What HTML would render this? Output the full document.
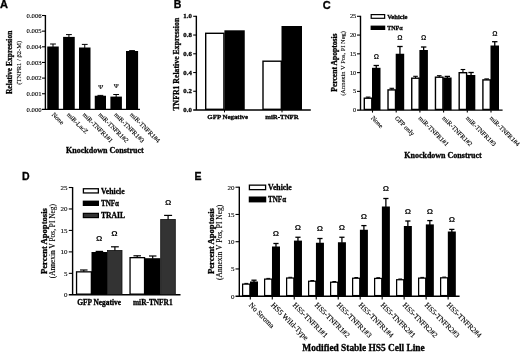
<!DOCTYPE html>
<html lang="en"><head><meta charset="utf-8"><title>Figure</title>
<style>
html,body{margin:0;padding:0;background:#fff;}
body{width:520px;height:352px;overflow:hidden;}
svg{display:block;}
</style></head><body>
<svg width="520" height="352" viewBox="0 0 520 352">
<rect x="0" y="0" width="520" height="352" fill="#fff"/>
<text x="0.00" y="8.40" font-family='"Liberation Sans","DejaVu Sans",sans-serif' font-size="11.0" font-weight="bold" stroke="#000" stroke-width="0.3" fill="#000">A</text>
<text x="173.80" y="8.20" font-family='"Liberation Sans","DejaVu Sans",sans-serif' font-size="10.5" font-weight="bold" stroke="#000" stroke-width="0.3" fill="#000">B</text>
<text x="322.70" y="8.60" font-family='"Liberation Sans","DejaVu Sans",sans-serif' font-size="11.0" font-weight="bold" stroke="#000" stroke-width="0.3" fill="#000">C</text>
<text x="22.10" y="179.80" font-family='"Liberation Sans","DejaVu Sans",sans-serif' font-size="10.5" font-weight="bold" stroke="#000" stroke-width="0.3" fill="#000">D</text>
<text x="194.60" y="179.80" font-family='"Liberation Sans","DejaVu Sans",sans-serif' font-size="10.5" font-weight="bold" stroke="#000" stroke-width="0.3" fill="#000">E</text>
<line x1="45.40" y1="15.00" x2="45.40" y2="109.40" stroke="#000" stroke-width="1.4"/>
<line x1="42.00" y1="109.40" x2="140.00" y2="109.40" stroke="#000" stroke-width="1.4"/>
<line x1="42.00" y1="15.50" x2="45.40" y2="15.50" stroke="#000" stroke-width="1.1"/>
<text x="41.60" y="17.70" font-family='"Liberation Serif","DejaVu Serif",serif' font-size="6.7" stroke="#000" stroke-width="0.12" text-anchor="end" fill="#000">0.006</text>
<line x1="42.00" y1="31.15" x2="45.40" y2="31.15" stroke="#000" stroke-width="1.1"/>
<text x="41.60" y="33.35" font-family='"Liberation Serif","DejaVu Serif",serif' font-size="6.7" stroke="#000" stroke-width="0.12" text-anchor="end" fill="#000">0.005</text>
<line x1="42.00" y1="46.80" x2="45.40" y2="46.80" stroke="#000" stroke-width="1.1"/>
<text x="41.60" y="49.00" font-family='"Liberation Serif","DejaVu Serif",serif' font-size="6.7" stroke="#000" stroke-width="0.12" text-anchor="end" fill="#000">0.004</text>
<line x1="42.00" y1="62.45" x2="45.40" y2="62.45" stroke="#000" stroke-width="1.1"/>
<text x="41.60" y="64.65" font-family='"Liberation Serif","DejaVu Serif",serif' font-size="6.7" stroke="#000" stroke-width="0.12" text-anchor="end" fill="#000">0.003</text>
<line x1="42.00" y1="78.10" x2="45.40" y2="78.10" stroke="#000" stroke-width="1.1"/>
<text x="41.60" y="80.30" font-family='"Liberation Serif","DejaVu Serif",serif' font-size="6.7" stroke="#000" stroke-width="0.12" text-anchor="end" fill="#000">0.002</text>
<line x1="42.00" y1="93.75" x2="45.40" y2="93.75" stroke="#000" stroke-width="1.1"/>
<text x="41.60" y="95.95" font-family='"Liberation Serif","DejaVu Serif",serif' font-size="6.7" stroke="#000" stroke-width="0.12" text-anchor="end" fill="#000">0.001</text>
<text x="41.60" y="111.60" font-family='"Liberation Serif","DejaVu Serif",serif' font-size="6.7" stroke="#000" stroke-width="0.12" text-anchor="end" fill="#000">0.000</text>
<rect x="47.25" y="46.50" width="11.50" height="62.90" fill="#000"/>
<line x1="53.00" y1="47.00" x2="53.00" y2="44.00" stroke="#000" stroke-width="1.0"/>
<line x1="50.10" y1="44.00" x2="55.90" y2="44.00" stroke="#000" stroke-width="1.0"/>
<rect x="63.10" y="36.90" width="11.65" height="72.50" fill="#000"/>
<line x1="68.92" y1="37.40" x2="68.92" y2="34.60" stroke="#000" stroke-width="1.0"/>
<line x1="66.02" y1="34.60" x2="71.83" y2="34.60" stroke="#000" stroke-width="1.0"/>
<rect x="79.00" y="47.50" width="11.50" height="61.90" fill="#000"/>
<line x1="84.75" y1="48.00" x2="84.75" y2="44.40" stroke="#000" stroke-width="1.0"/>
<line x1="81.85" y1="44.40" x2="87.65" y2="44.40" stroke="#000" stroke-width="1.0"/>
<rect x="94.75" y="95.75" width="11.25" height="13.65" fill="#000"/>
<line x1="100.38" y1="96.25" x2="100.38" y2="95.40" stroke="#000" stroke-width="1.0"/>
<line x1="97.47" y1="95.40" x2="103.28" y2="95.40" stroke="#000" stroke-width="1.0"/>
<rect x="110.40" y="96.60" width="11.50" height="12.80" fill="#000"/>
<line x1="116.15" y1="97.10" x2="116.15" y2="94.50" stroke="#000" stroke-width="1.0"/>
<line x1="113.25" y1="94.50" x2="119.05" y2="94.50" stroke="#000" stroke-width="1.0"/>
<rect x="126.00" y="51.00" width="12.10" height="58.40" fill="#000"/>
<line x1="132.05" y1="51.50" x2="132.05" y2="50.60" stroke="#000" stroke-width="1.0"/>
<line x1="129.15" y1="50.60" x2="134.95" y2="50.60" stroke="#000" stroke-width="1.0"/>
<text x="100.7" y="88.7" font-family='"Liberation Serif","DejaVu Serif",serif' font-size="6.7" text-anchor="middle" stroke="#000" stroke-width="0.15">Ψ</text>
<text x="116.3" y="87.5" font-family='"Liberation Serif","DejaVu Serif",serif' font-size="6.7" text-anchor="middle" stroke="#000" stroke-width="0.15">Ψ</text>
<text x="51.50" y="115.00" font-family='"Liberation Serif","DejaVu Serif",serif' font-size="6.5" stroke="#000" stroke-width="0.12" transform="rotate(45 51.50 115.00)" fill="#000">None</text>
<text x="66.42" y="115.00" font-family='"Liberation Serif","DejaVu Serif",serif' font-size="6.5" stroke="#000" stroke-width="0.12" transform="rotate(45 66.42 115.00)" fill="#000">miR-LacZ</text>
<text x="82.25" y="115.00" font-family='"Liberation Serif","DejaVu Serif",serif' font-size="6.5" stroke="#000" stroke-width="0.12" transform="rotate(45 82.25 115.00)" fill="#000">miR-TNFR1#1</text>
<text x="97.88" y="115.00" font-family='"Liberation Serif","DejaVu Serif",serif' font-size="6.5" stroke="#000" stroke-width="0.12" transform="rotate(45 97.88 115.00)" fill="#000">miR-TNFR1#2</text>
<text x="113.65" y="115.00" font-family='"Liberation Serif","DejaVu Serif",serif' font-size="6.5" stroke="#000" stroke-width="0.12" transform="rotate(45 113.65 115.00)" fill="#000">miR-TNFR1#3</text>
<text x="129.55" y="115.00" font-family='"Liberation Serif","DejaVu Serif",serif' font-size="6.5" stroke="#000" stroke-width="0.12" transform="rotate(45 129.55 115.00)" fill="#000">miR-TNFR1#4</text>
<text x="104.90" y="153.10" font-family='"Liberation Serif","DejaVu Serif",serif' font-size="8.0" font-weight="bold" stroke="#000" stroke-width="0.3" text-anchor="middle" fill="#000">Knockdown Construct</text>
<text x="12.20" y="62.35" font-family='"Liberation Serif","DejaVu Serif",serif' font-size="7.5" font-weight="bold" stroke="#000" stroke-width="0.3" text-anchor="middle" transform="rotate(-90 12.20 62.35)" fill="#000">Relative Expression</text>
<text x="21.20" y="62.80" font-family='"Liberation Serif","DejaVu Serif",serif' font-size="6.5" stroke="#000" stroke-width="0.12" text-anchor="middle" transform="rotate(-90 21.20 62.80)" fill="#000">(TNFR1 / β2-M)</text>
<line x1="196.35" y1="15.80" x2="196.35" y2="110.00" stroke="#000" stroke-width="1.4"/>
<line x1="193.20" y1="110.00" x2="310.80" y2="110.00" stroke="#000" stroke-width="1.4"/>
<line x1="193.20" y1="16.30" x2="196.35" y2="16.30" stroke="#000" stroke-width="1.1"/>
<text x="191.80" y="18.40" font-family='"Liberation Serif","DejaVu Serif",serif' font-size="6.8" font-weight="bold" stroke="#000" stroke-width="0.3" text-anchor="end" fill="#000">1.0</text>
<line x1="193.20" y1="35.04" x2="196.35" y2="35.04" stroke="#000" stroke-width="1.1"/>
<text x="191.80" y="37.14" font-family='"Liberation Serif","DejaVu Serif",serif' font-size="6.8" font-weight="bold" stroke="#000" stroke-width="0.3" text-anchor="end" fill="#000">0.8</text>
<line x1="193.20" y1="53.78" x2="196.35" y2="53.78" stroke="#000" stroke-width="1.1"/>
<text x="191.80" y="55.88" font-family='"Liberation Serif","DejaVu Serif",serif' font-size="6.8" font-weight="bold" stroke="#000" stroke-width="0.3" text-anchor="end" fill="#000">0.6</text>
<line x1="193.20" y1="72.52" x2="196.35" y2="72.52" stroke="#000" stroke-width="1.1"/>
<text x="191.80" y="74.62" font-family='"Liberation Serif","DejaVu Serif",serif' font-size="6.8" font-weight="bold" stroke="#000" stroke-width="0.3" text-anchor="end" fill="#000">0.4</text>
<line x1="193.20" y1="91.26" x2="196.35" y2="91.26" stroke="#000" stroke-width="1.1"/>
<text x="191.80" y="93.36" font-family='"Liberation Serif","DejaVu Serif",serif' font-size="6.8" font-weight="bold" stroke="#000" stroke-width="0.3" text-anchor="end" fill="#000">0.2</text>
<text x="191.80" y="112.10" font-family='"Liberation Serif","DejaVu Serif",serif' font-size="6.8" font-weight="bold" stroke="#000" stroke-width="0.3" text-anchor="end" fill="#000">0.0</text>
<rect x="205.70" y="33.30" width="18.20" height="76.00" fill="#fff" stroke="#000" stroke-width="1.4"/>
<rect x="224.40" y="30.30" width="20.35" height="79.70" fill="#000"/>
<rect x="263.00" y="61.20" width="18.30" height="48.10" fill="#fff" stroke="#000" stroke-width="1.4"/>
<rect x="281.50" y="26.00" width="20.50" height="84.00" fill="#000"/>
<line x1="224.50" y1="110.00" x2="224.50" y2="112.40" stroke="#000" stroke-width="1.0"/>
<line x1="282.00" y1="110.00" x2="282.00" y2="112.40" stroke="#000" stroke-width="1.0"/>
<text x="227.70" y="119.30" font-family='"Liberation Serif","DejaVu Serif",serif' font-size="6.9" font-weight="bold" stroke="#000" stroke-width="0.3" text-anchor="middle" fill="#000">GFP Negative</text>
<text x="282.00" y="119.30" font-family='"Liberation Serif","DejaVu Serif",serif' font-size="6.85" font-weight="bold" stroke="#000" stroke-width="0.3" text-anchor="middle" fill="#000">miR-TNFR</text>
<text x="179.30" y="64.20" font-family='"Liberation Serif","DejaVu Serif",serif' font-size="7.7" font-weight="bold" stroke="#000" stroke-width="0.3" text-anchor="middle" transform="rotate(-90 179.30 64.20)" textLength="92.80" lengthAdjust="spacing" fill="#000">TNFR1 Relative Expression</text>
<line x1="360.50" y1="15.80" x2="360.50" y2="110.15" stroke="#000" stroke-width="1.4"/>
<line x1="357.00" y1="110.15" x2="502.60" y2="110.15" stroke="#000" stroke-width="1.4"/>
<line x1="357.00" y1="16.30" x2="360.50" y2="16.30" stroke="#000" stroke-width="1.1"/>
<text x="356.30" y="18.40" font-family='"Liberation Serif","DejaVu Serif",serif' font-size="6.4" stroke="#000" stroke-width="0.12" text-anchor="end" fill="#000">25</text>
<line x1="357.00" y1="35.07" x2="360.50" y2="35.07" stroke="#000" stroke-width="1.1"/>
<text x="356.30" y="37.17" font-family='"Liberation Serif","DejaVu Serif",serif' font-size="6.4" stroke="#000" stroke-width="0.12" text-anchor="end" fill="#000">20</text>
<line x1="357.00" y1="53.84" x2="360.50" y2="53.84" stroke="#000" stroke-width="1.1"/>
<text x="356.30" y="55.94" font-family='"Liberation Serif","DejaVu Serif",serif' font-size="6.4" stroke="#000" stroke-width="0.12" text-anchor="end" fill="#000">15</text>
<line x1="357.00" y1="72.61" x2="360.50" y2="72.61" stroke="#000" stroke-width="1.1"/>
<text x="356.30" y="74.71" font-family='"Liberation Serif","DejaVu Serif",serif' font-size="6.4" stroke="#000" stroke-width="0.12" text-anchor="end" fill="#000">10</text>
<line x1="357.00" y1="91.38" x2="360.50" y2="91.38" stroke="#000" stroke-width="1.1"/>
<text x="356.30" y="93.48" font-family='"Liberation Serif","DejaVu Serif",serif' font-size="6.4" stroke="#000" stroke-width="0.12" text-anchor="end" fill="#000">5</text>
<text x="356.30" y="112.25" font-family='"Liberation Serif","DejaVu Serif",serif' font-size="6.4" stroke="#000" stroke-width="0.12" text-anchor="end" fill="#000">0</text>
<rect x="364.30" y="98.20" width="7.50" height="11.25" fill="#fff" stroke="#000" stroke-width="1.4"/>
<line x1="368.10" y1="98.00" x2="368.10" y2="97.10" stroke="#000" stroke-width="1.1"/>
<line x1="365.80" y1="97.10" x2="370.40" y2="97.10" stroke="#000" stroke-width="1.1"/>
<rect x="372.00" y="67.80" width="8.50" height="42.35" fill="#000"/>
<line x1="376.25" y1="68.30" x2="376.25" y2="65.50" stroke="#000" stroke-width="1.3"/>
<line x1="373.55" y1="65.50" x2="378.95" y2="65.50" stroke="#000" stroke-width="1.3"/>
<line x1="372.50" y1="110.15" x2="372.50" y2="112.60" stroke="#000" stroke-width="1.1"/>
<rect x="388.02" y="89.90" width="7.48" height="19.55" fill="#fff" stroke="#000" stroke-width="1.4"/>
<line x1="391.81" y1="89.70" x2="391.81" y2="88.30" stroke="#000" stroke-width="1.1"/>
<line x1="389.51" y1="88.30" x2="394.11" y2="88.30" stroke="#000" stroke-width="1.1"/>
<rect x="395.70" y="53.75" width="8.50" height="56.40" fill="#000"/>
<line x1="399.95" y1="54.25" x2="399.95" y2="46.50" stroke="#000" stroke-width="1.3"/>
<line x1="397.25" y1="46.50" x2="402.65" y2="46.50" stroke="#000" stroke-width="1.3"/>
<line x1="396.20" y1="110.15" x2="396.20" y2="112.60" stroke="#000" stroke-width="1.1"/>
<rect x="411.74" y="78.20" width="7.46" height="31.25" fill="#fff" stroke="#000" stroke-width="1.4"/>
<line x1="415.52" y1="78.00" x2="415.52" y2="76.30" stroke="#000" stroke-width="1.1"/>
<line x1="413.22" y1="76.30" x2="417.82" y2="76.30" stroke="#000" stroke-width="1.1"/>
<rect x="419.40" y="50.00" width="8.50" height="60.15" fill="#000"/>
<line x1="423.65" y1="50.50" x2="423.65" y2="47.00" stroke="#000" stroke-width="1.3"/>
<line x1="420.95" y1="47.00" x2="426.35" y2="47.00" stroke="#000" stroke-width="1.3"/>
<line x1="419.90" y1="110.15" x2="419.90" y2="112.60" stroke="#000" stroke-width="1.1"/>
<rect x="435.46" y="77.20" width="7.44" height="32.25" fill="#fff" stroke="#000" stroke-width="1.4"/>
<line x1="439.23" y1="77.00" x2="439.23" y2="75.70" stroke="#000" stroke-width="1.1"/>
<line x1="436.93" y1="75.70" x2="441.53" y2="75.70" stroke="#000" stroke-width="1.1"/>
<rect x="443.10" y="77.50" width="8.50" height="32.65" fill="#000"/>
<line x1="447.35" y1="78.00" x2="447.35" y2="76.40" stroke="#000" stroke-width="1.3"/>
<line x1="444.65" y1="76.40" x2="450.05" y2="76.40" stroke="#000" stroke-width="1.3"/>
<line x1="443.60" y1="110.15" x2="443.60" y2="112.60" stroke="#000" stroke-width="1.1"/>
<rect x="459.18" y="72.70" width="7.42" height="36.75" fill="#fff" stroke="#000" stroke-width="1.4"/>
<line x1="462.94" y1="72.50" x2="462.94" y2="69.50" stroke="#000" stroke-width="1.1"/>
<line x1="460.64" y1="69.50" x2="465.24" y2="69.50" stroke="#000" stroke-width="1.1"/>
<rect x="466.80" y="75.00" width="8.50" height="35.15" fill="#000"/>
<line x1="471.05" y1="75.50" x2="471.05" y2="72.50" stroke="#000" stroke-width="1.3"/>
<line x1="468.35" y1="72.50" x2="473.75" y2="72.50" stroke="#000" stroke-width="1.3"/>
<line x1="467.30" y1="110.15" x2="467.30" y2="112.60" stroke="#000" stroke-width="1.1"/>
<rect x="482.90" y="79.90" width="7.40" height="29.55" fill="#fff" stroke="#000" stroke-width="1.4"/>
<line x1="486.65" y1="79.70" x2="486.65" y2="78.90" stroke="#000" stroke-width="1.1"/>
<line x1="484.35" y1="78.90" x2="488.95" y2="78.90" stroke="#000" stroke-width="1.1"/>
<rect x="490.50" y="45.50" width="8.50" height="64.65" fill="#000"/>
<line x1="494.75" y1="46.00" x2="494.75" y2="41.70" stroke="#000" stroke-width="1.3"/>
<line x1="492.05" y1="41.70" x2="497.45" y2="41.70" stroke="#000" stroke-width="1.3"/>
<line x1="491.00" y1="110.15" x2="491.00" y2="112.60" stroke="#000" stroke-width="1.1"/>
<text x="376.30" y="58.70" font-family='"Liberation Sans","DejaVu Sans",sans-serif' font-size="6.6" font-weight="bold" text-anchor="middle" fill="#000">Ω</text>
<text x="400.00" y="40.20" font-family='"Liberation Sans","DejaVu Sans",sans-serif' font-size="6.6" font-weight="bold" text-anchor="middle" fill="#000">Ω</text>
<text x="423.70" y="40.20" font-family='"Liberation Sans","DejaVu Sans",sans-serif' font-size="6.6" font-weight="bold" text-anchor="middle" fill="#000">Ω</text>
<text x="494.80" y="35.70" font-family='"Liberation Sans","DejaVu Sans",sans-serif' font-size="6.6" font-weight="bold" text-anchor="middle" fill="#000">Ω</text>
<rect x="371.20" y="14.60" width="13.45" height="3.70" fill="#fff" stroke="#000" stroke-width="1.2"/>
<rect x="370.60" y="25.60" width="14.65" height="4.40" fill="#000"/>
<text x="387.20" y="18.80" font-family='"Liberation Serif","DejaVu Serif",serif' font-size="6.6" font-weight="bold" stroke="#000" stroke-width="0.3" fill="#000">Vehicle</text>
<text x="387.20" y="30.00" font-family='"Liberation Serif","DejaVu Serif",serif' font-size="6.6" font-weight="bold" stroke="#000" stroke-width="0.3" textLength="15.30" lengthAdjust="spacingAndGlyphs" fill="#000">TNFα</text>
<text x="370.70" y="118.50" font-family='"Liberation Serif","DejaVu Serif",serif' font-size="6.5" stroke="#000" stroke-width="0.12" transform="rotate(45 370.70 118.50)" fill="#000">None</text>
<text x="394.40" y="118.50" font-family='"Liberation Serif","DejaVu Serif",serif' font-size="6.5" stroke="#000" stroke-width="0.12" transform="rotate(45 394.40 118.50)" fill="#000">GFP only</text>
<text x="418.10" y="118.50" font-family='"Liberation Serif","DejaVu Serif",serif' font-size="6.5" stroke="#000" stroke-width="0.12" transform="rotate(45 418.10 118.50)" fill="#000">miR-TNFR1#1</text>
<text x="441.80" y="118.50" font-family='"Liberation Serif","DejaVu Serif",serif' font-size="6.5" stroke="#000" stroke-width="0.12" transform="rotate(45 441.80 118.50)" fill="#000">miR-TNFR1#2</text>
<text x="465.50" y="118.50" font-family='"Liberation Serif","DejaVu Serif",serif' font-size="6.5" stroke="#000" stroke-width="0.12" transform="rotate(45 465.50 118.50)" fill="#000">miR-TNFR1#3</text>
<text x="489.20" y="118.50" font-family='"Liberation Serif","DejaVu Serif",serif' font-size="6.5" stroke="#000" stroke-width="0.12" transform="rotate(45 489.20 118.50)" fill="#000">miR-TNFR1#4</text>
<text x="443.00" y="158.40" font-family='"Liberation Serif","DejaVu Serif",serif' font-size="8.0" font-weight="bold" stroke="#000" stroke-width="0.3" text-anchor="middle" fill="#000">Knockdown Construct</text>
<text x="337.10" y="62.60" font-family='"Liberation Serif","DejaVu Serif",serif' font-size="7.6" font-weight="bold" stroke="#000" stroke-width="0.3" text-anchor="middle" transform="rotate(-90 337.10 62.60)" fill="#000">Percent Apoptosis</text>
<text x="345.20" y="63.45" font-family='"Liberation Serif","DejaVu Serif",serif' font-size="6.45" stroke="#000" stroke-width="0.12" text-anchor="middle" transform="rotate(-90 345.20 63.45)" fill="#000">(Annexin V Pos, PI Neg)</text>
<line x1="72.60" y1="187.00" x2="72.60" y2="294.80" stroke="#000" stroke-width="1.4"/>
<line x1="68.80" y1="294.80" x2="180.50" y2="294.80" stroke="#000" stroke-width="1.4"/>
<line x1="68.80" y1="187.50" x2="72.60" y2="187.50" stroke="#000" stroke-width="1.1"/>
<text x="67.60" y="189.80" font-family='"Liberation Serif","DejaVu Serif",serif' font-size="7.0" stroke="#000" stroke-width="0.12" text-anchor="end" fill="#000">25</text>
<line x1="68.80" y1="208.96" x2="72.60" y2="208.96" stroke="#000" stroke-width="1.1"/>
<text x="67.60" y="211.26" font-family='"Liberation Serif","DejaVu Serif",serif' font-size="7.0" stroke="#000" stroke-width="0.12" text-anchor="end" fill="#000">20</text>
<line x1="68.80" y1="230.42" x2="72.60" y2="230.42" stroke="#000" stroke-width="1.1"/>
<text x="67.60" y="232.72" font-family='"Liberation Serif","DejaVu Serif",serif' font-size="7.0" stroke="#000" stroke-width="0.12" text-anchor="end" fill="#000">15</text>
<line x1="68.80" y1="251.88" x2="72.60" y2="251.88" stroke="#000" stroke-width="1.1"/>
<text x="67.60" y="254.18" font-family='"Liberation Serif","DejaVu Serif",serif' font-size="7.0" stroke="#000" stroke-width="0.12" text-anchor="end" fill="#000">10</text>
<line x1="68.80" y1="273.34" x2="72.60" y2="273.34" stroke="#000" stroke-width="1.1"/>
<text x="67.60" y="275.64" font-family='"Liberation Serif","DejaVu Serif",serif' font-size="7.0" stroke="#000" stroke-width="0.12" text-anchor="end" fill="#000">5</text>
<text x="67.60" y="297.10" font-family='"Liberation Serif","DejaVu Serif",serif' font-size="7.0" stroke="#000" stroke-width="0.12" text-anchor="end" fill="#000">0</text>
<rect x="76.55" y="271.85" width="14.80" height="22.30" fill="#fff" stroke="#000" stroke-width="1.3"/>
<line x1="83.80" y1="271.70" x2="83.80" y2="270.00" stroke="#000" stroke-width="1.2"/>
<line x1="80.05" y1="270.00" x2="87.55" y2="270.00" stroke="#000" stroke-width="1.2"/>
<rect x="91.50" y="252.00" width="15.70" height="42.80" fill="#000"/>
<line x1="99.40" y1="252.50" x2="99.40" y2="251.40" stroke="#000" stroke-width="1.2"/>
<line x1="95.65" y1="251.40" x2="103.15" y2="251.40" stroke="#000" stroke-width="1.2"/>
<rect x="107.40" y="250.40" width="14.60" height="44.00" fill="#333" stroke="#111" stroke-width="0.8"/>
<line x1="114.90" y1="250.50" x2="114.90" y2="246.80" stroke="#000" stroke-width="1.2"/>
<line x1="111.00" y1="246.80" x2="118.80" y2="246.80" stroke="#000" stroke-width="1.2"/>
<rect x="130.05" y="257.65" width="14.50" height="36.50" fill="#fff" stroke="#000" stroke-width="1.3"/>
<line x1="137.20" y1="257.50" x2="137.20" y2="255.80" stroke="#000" stroke-width="1.2"/>
<line x1="133.45" y1="255.80" x2="140.95" y2="255.80" stroke="#000" stroke-width="1.2"/>
<rect x="145.00" y="258.20" width="15.40" height="36.60" fill="#000"/>
<line x1="152.70" y1="258.70" x2="152.70" y2="256.00" stroke="#000" stroke-width="1.2"/>
<line x1="148.95" y1="256.00" x2="156.45" y2="256.00" stroke="#000" stroke-width="1.2"/>
<rect x="160.70" y="219.40" width="14.60" height="75.00" fill="#333" stroke="#111" stroke-width="0.8"/>
<line x1="168.10" y1="219.50" x2="168.10" y2="215.40" stroke="#000" stroke-width="1.2"/>
<line x1="164.10" y1="215.40" x2="172.10" y2="215.40" stroke="#000" stroke-width="1.2"/>
<text x="99.20" y="241.00" font-family='"Liberation Sans","DejaVu Sans",sans-serif' font-size="7.9" font-weight="bold" text-anchor="middle" fill="#000">Ω</text>
<text x="114.50" y="236.20" font-family='"Liberation Sans","DejaVu Sans",sans-serif' font-size="7.9" font-weight="bold" text-anchor="middle" fill="#000">Ω</text>
<text x="168.10" y="204.90" font-family='"Liberation Sans","DejaVu Sans",sans-serif' font-size="7.9" font-weight="bold" text-anchor="middle" fill="#000">Ω</text>
<rect x="83.40" y="188.75" width="14.95" height="4.20" fill="#fff" stroke="#000" stroke-width="1.3"/>
<rect x="82.75" y="200.60" width="16.25" height="5.40" fill="#000"/>
<rect x="83.35" y="213.35" width="15.05" height="4.25" fill="#333" stroke="#000" stroke-width="1.2"/>
<text x="101.00" y="193.60" font-family='"Liberation Serif","DejaVu Serif",serif' font-size="7.7" font-weight="bold" stroke="#000" stroke-width="0.3" fill="#000">Vehicle</text>
<text x="101.00" y="206.00" font-family='"Liberation Serif","DejaVu Serif",serif' font-size="7.6" font-weight="bold" stroke="#000" stroke-width="0.3" textLength="18.00" lengthAdjust="spacingAndGlyphs" fill="#000">TNFα</text>
<text x="101.00" y="218.10" font-family='"Liberation Serif","DejaVu Serif",serif' font-size="7.6" font-weight="bold" stroke="#000" stroke-width="0.3" fill="#000">TRAIL</text>
<text x="99.10" y="305.00" font-family='"Liberation Serif","DejaVu Serif",serif' font-size="7.4" font-weight="bold" stroke="#000" stroke-width="0.3" text-anchor="middle" fill="#000">GFP Negative</text>
<text x="152.80" y="305.00" font-family='"Liberation Serif","DejaVu Serif",serif' font-size="7.35" font-weight="bold" stroke="#000" stroke-width="0.3" text-anchor="middle" fill="#000">miR-TNFR1</text>
<text x="47.10" y="241.10" font-family='"Liberation Serif","DejaVu Serif",serif' font-size="8.6" font-weight="bold" stroke="#000" stroke-width="0.3" text-anchor="middle" transform="rotate(-90 47.10 241.10)" fill="#000">Percent Apoptosis</text>
<text x="55.00" y="241.10" font-family='"Liberation Serif","DejaVu Serif",serif' font-size="7.4" stroke="#000" stroke-width="0.12" text-anchor="middle" transform="rotate(-90 55.00 241.10)" fill="#000">(Annexin V Pos, PI Neg)</text>
<line x1="239.30" y1="186.70" x2="239.30" y2="296.20" stroke="#000" stroke-width="1.4"/>
<line x1="235.50" y1="296.20" x2="459.60" y2="296.20" stroke="#000" stroke-width="1.4"/>
<line x1="235.50" y1="187.20" x2="239.30" y2="187.20" stroke="#000" stroke-width="1.1"/>
<text x="234.50" y="189.50" font-family='"Liberation Serif","DejaVu Serif",serif' font-size="7.0" stroke="#000" stroke-width="0.12" text-anchor="end" fill="#000">20</text>
<line x1="235.50" y1="214.45" x2="239.30" y2="214.45" stroke="#000" stroke-width="1.1"/>
<text x="234.50" y="216.75" font-family='"Liberation Serif","DejaVu Serif",serif' font-size="7.0" stroke="#000" stroke-width="0.12" text-anchor="end" fill="#000">15</text>
<line x1="235.50" y1="241.70" x2="239.30" y2="241.70" stroke="#000" stroke-width="1.1"/>
<text x="234.50" y="244.00" font-family='"Liberation Serif","DejaVu Serif",serif' font-size="7.0" stroke="#000" stroke-width="0.12" text-anchor="end" fill="#000">10</text>
<line x1="235.50" y1="268.95" x2="239.30" y2="268.95" stroke="#000" stroke-width="1.1"/>
<text x="234.50" y="271.25" font-family='"Liberation Serif","DejaVu Serif",serif' font-size="7.0" stroke="#000" stroke-width="0.12" text-anchor="end" fill="#000">5</text>
<text x="234.50" y="298.50" font-family='"Liberation Serif","DejaVu Serif",serif' font-size="7.0" stroke="#000" stroke-width="0.12" text-anchor="end" fill="#000">0</text>
<rect x="242.62" y="284.12" width="7.25" height="11.45" fill="#fff" stroke="#000" stroke-width="1.25"/>
<line x1="244.40" y1="283.40" x2="248.20" y2="283.40" stroke="#000" stroke-width="1.0"/>
<rect x="250.00" y="281.50" width="8.00" height="14.70" fill="#000"/>
<line x1="254.00" y1="282.00" x2="254.00" y2="280.20" stroke="#000" stroke-width="1.3"/>
<line x1="251.40" y1="280.20" x2="256.60" y2="280.20" stroke="#000" stroke-width="1.3"/>
<line x1="250.30" y1="296.20" x2="250.30" y2="299.40" stroke="#000" stroke-width="1.1"/>
<rect x="264.62" y="279.12" width="7.23" height="16.45" fill="#fff" stroke="#000" stroke-width="1.25"/>
<line x1="266.39" y1="278.40" x2="270.19" y2="278.40" stroke="#000" stroke-width="1.0"/>
<rect x="271.98" y="246.50" width="8.00" height="49.70" fill="#000"/>
<line x1="275.98" y1="247.00" x2="275.98" y2="243.50" stroke="#000" stroke-width="1.3"/>
<line x1="273.38" y1="243.50" x2="278.58" y2="243.50" stroke="#000" stroke-width="1.3"/>
<line x1="272.28" y1="296.20" x2="272.28" y2="299.40" stroke="#000" stroke-width="1.1"/>
<text x="275.98" y="235.80" font-family='"Liberation Sans","DejaVu Sans",sans-serif' font-size="7.9" font-weight="bold" text-anchor="middle" fill="#000">Ω</text>
<rect x="286.62" y="278.02" width="7.21" height="17.55" fill="#fff" stroke="#000" stroke-width="1.25"/>
<line x1="288.38" y1="277.30" x2="292.18" y2="277.30" stroke="#000" stroke-width="1.0"/>
<rect x="293.96" y="240.60" width="8.00" height="55.60" fill="#000"/>
<line x1="297.96" y1="241.10" x2="297.96" y2="237.25" stroke="#000" stroke-width="1.3"/>
<line x1="295.36" y1="237.25" x2="300.56" y2="237.25" stroke="#000" stroke-width="1.3"/>
<line x1="294.26" y1="296.20" x2="294.26" y2="299.40" stroke="#000" stroke-width="1.1"/>
<text x="297.96" y="229.95" font-family='"Liberation Sans","DejaVu Sans",sans-serif' font-size="7.9" font-weight="bold" text-anchor="middle" fill="#000">Ω</text>
<rect x="308.62" y="281.23" width="7.19" height="14.35" fill="#fff" stroke="#000" stroke-width="1.25"/>
<line x1="310.37" y1="280.50" x2="314.17" y2="280.50" stroke="#000" stroke-width="1.0"/>
<rect x="315.94" y="242.75" width="8.00" height="53.45" fill="#000"/>
<line x1="319.94" y1="243.25" x2="319.94" y2="238.50" stroke="#000" stroke-width="1.3"/>
<line x1="317.34" y1="238.50" x2="322.54" y2="238.50" stroke="#000" stroke-width="1.3"/>
<line x1="316.24" y1="296.20" x2="316.24" y2="299.40" stroke="#000" stroke-width="1.1"/>
<text x="319.94" y="230.80" font-family='"Liberation Sans","DejaVu Sans",sans-serif' font-size="7.9" font-weight="bold" text-anchor="middle" fill="#000">Ω</text>
<rect x="330.62" y="282.23" width="7.17" height="13.35" fill="#fff" stroke="#000" stroke-width="1.25"/>
<line x1="332.36" y1="281.50" x2="336.16" y2="281.50" stroke="#000" stroke-width="1.0"/>
<rect x="337.92" y="242.25" width="8.00" height="53.95" fill="#000"/>
<line x1="341.92" y1="242.75" x2="341.92" y2="237.25" stroke="#000" stroke-width="1.3"/>
<line x1="339.32" y1="237.25" x2="344.52" y2="237.25" stroke="#000" stroke-width="1.3"/>
<line x1="338.22" y1="296.20" x2="338.22" y2="299.40" stroke="#000" stroke-width="1.1"/>
<text x="341.92" y="229.95" font-family='"Liberation Sans","DejaVu Sans",sans-serif' font-size="7.9" font-weight="bold" text-anchor="middle" fill="#000">Ω</text>
<rect x="352.62" y="278.23" width="7.15" height="17.35" fill="#fff" stroke="#000" stroke-width="1.25"/>
<line x1="354.35" y1="277.50" x2="358.15" y2="277.50" stroke="#000" stroke-width="1.0"/>
<rect x="359.90" y="229.75" width="8.00" height="66.45" fill="#000"/>
<line x1="363.90" y1="230.25" x2="363.90" y2="225.60" stroke="#000" stroke-width="1.3"/>
<line x1="361.30" y1="225.60" x2="366.50" y2="225.60" stroke="#000" stroke-width="1.3"/>
<line x1="360.20" y1="296.20" x2="360.20" y2="299.40" stroke="#000" stroke-width="1.1"/>
<text x="363.90" y="218.70" font-family='"Liberation Sans","DejaVu Sans",sans-serif' font-size="7.9" font-weight="bold" text-anchor="middle" fill="#000">Ω</text>
<rect x="374.62" y="278.43" width="7.13" height="17.15" fill="#fff" stroke="#000" stroke-width="1.25"/>
<line x1="376.34" y1="277.70" x2="380.14" y2="277.70" stroke="#000" stroke-width="1.0"/>
<rect x="381.88" y="206.50" width="8.00" height="89.70" fill="#000"/>
<line x1="385.88" y1="207.00" x2="385.88" y2="198.50" stroke="#000" stroke-width="1.3"/>
<line x1="383.28" y1="198.50" x2="388.48" y2="198.50" stroke="#000" stroke-width="1.3"/>
<line x1="382.18" y1="296.20" x2="382.18" y2="299.40" stroke="#000" stroke-width="1.1"/>
<text x="385.88" y="191.45" font-family='"Liberation Sans","DejaVu Sans",sans-serif' font-size="7.9" font-weight="bold" text-anchor="middle" fill="#000">Ω</text>
<rect x="396.62" y="279.73" width="7.11" height="15.85" fill="#fff" stroke="#000" stroke-width="1.25"/>
<line x1="398.33" y1="279.00" x2="402.13" y2="279.00" stroke="#000" stroke-width="1.0"/>
<rect x="403.86" y="226.00" width="8.00" height="70.20" fill="#000"/>
<line x1="407.86" y1="226.50" x2="407.86" y2="221.00" stroke="#000" stroke-width="1.3"/>
<line x1="405.26" y1="221.00" x2="410.46" y2="221.00" stroke="#000" stroke-width="1.3"/>
<line x1="404.16" y1="296.20" x2="404.16" y2="299.40" stroke="#000" stroke-width="1.1"/>
<text x="407.86" y="213.95" font-family='"Liberation Sans","DejaVu Sans",sans-serif' font-size="7.9" font-weight="bold" text-anchor="middle" fill="#000">Ω</text>
<rect x="418.62" y="278.12" width="7.09" height="17.45" fill="#fff" stroke="#000" stroke-width="1.25"/>
<line x1="420.32" y1="277.40" x2="424.12" y2="277.40" stroke="#000" stroke-width="1.0"/>
<rect x="425.84" y="224.40" width="8.00" height="71.80" fill="#000"/>
<line x1="429.84" y1="224.90" x2="429.84" y2="220.60" stroke="#000" stroke-width="1.3"/>
<line x1="427.24" y1="220.60" x2="432.44" y2="220.60" stroke="#000" stroke-width="1.3"/>
<line x1="426.14" y1="296.20" x2="426.14" y2="299.40" stroke="#000" stroke-width="1.1"/>
<text x="429.84" y="213.70" font-family='"Liberation Sans","DejaVu Sans",sans-serif' font-size="7.9" font-weight="bold" text-anchor="middle" fill="#000">Ω</text>
<rect x="440.62" y="277.82" width="7.07" height="17.75" fill="#fff" stroke="#000" stroke-width="1.25"/>
<line x1="442.31" y1="277.10" x2="446.11" y2="277.10" stroke="#000" stroke-width="1.0"/>
<rect x="447.82" y="231.50" width="8.00" height="64.70" fill="#000"/>
<line x1="451.82" y1="232.00" x2="451.82" y2="229.40" stroke="#000" stroke-width="1.3"/>
<line x1="449.22" y1="229.40" x2="454.42" y2="229.40" stroke="#000" stroke-width="1.3"/>
<line x1="448.12" y1="296.20" x2="448.12" y2="299.40" stroke="#000" stroke-width="1.1"/>
<text x="451.82" y="221.70" font-family='"Liberation Sans","DejaVu Sans",sans-serif' font-size="7.9" font-weight="bold" text-anchor="middle" fill="#000">Ω</text>
<rect x="249.40" y="185.15" width="16.20" height="4.50" fill="#fff" stroke="#000" stroke-width="1.3"/>
<rect x="248.75" y="196.50" width="17.50" height="5.90" fill="#000"/>
<text x="268.10" y="190.30" font-family='"Liberation Serif","DejaVu Serif",serif' font-size="7.7" font-weight="bold" stroke="#000" stroke-width="0.3" fill="#000">Vehicle</text>
<text x="268.10" y="202.30" font-family='"Liberation Serif","DejaVu Serif",serif' font-size="7.6" font-weight="bold" stroke="#000" stroke-width="0.3" textLength="18.00" lengthAdjust="spacingAndGlyphs" fill="#000">TNFα</text>
<text x="248.40" y="305.60" font-family='"Liberation Serif","DejaVu Serif",serif' font-size="7.45" stroke="#000" stroke-width="0.12" transform="rotate(45 248.40 305.60)" fill="#000">No Stroma</text>
<text x="270.38" y="305.60" font-family='"Liberation Serif","DejaVu Serif",serif' font-size="7.9" stroke="#000" stroke-width="0.12" transform="rotate(45 270.38 305.60)" fill="#000">HS5 Wild-Type</text>
<text x="292.36" y="305.60" font-family='"Liberation Serif","DejaVu Serif",serif' font-size="7.45" stroke="#000" stroke-width="0.12" transform="rotate(45 292.36 305.60)" fill="#000">HS5-TNFR1#1</text>
<text x="314.34" y="305.60" font-family='"Liberation Serif","DejaVu Serif",serif' font-size="7.45" stroke="#000" stroke-width="0.12" transform="rotate(45 314.34 305.60)" fill="#000">HS5-TNFR1#2</text>
<text x="336.32" y="305.60" font-family='"Liberation Serif","DejaVu Serif",serif' font-size="7.45" stroke="#000" stroke-width="0.12" transform="rotate(45 336.32 305.60)" fill="#000">HS5-TNFR1#3</text>
<text x="358.30" y="305.60" font-family='"Liberation Serif","DejaVu Serif",serif' font-size="7.45" stroke="#000" stroke-width="0.12" transform="rotate(45 358.30 305.60)" fill="#000">HS5-TNFR1#4</text>
<text x="380.28" y="305.60" font-family='"Liberation Serif","DejaVu Serif",serif' font-size="7.45" stroke="#000" stroke-width="0.12" transform="rotate(45 380.28 305.60)" fill="#000">HS5-TNFR2#1</text>
<text x="402.26" y="305.60" font-family='"Liberation Serif","DejaVu Serif",serif' font-size="7.45" stroke="#000" stroke-width="0.12" transform="rotate(45 402.26 305.60)" fill="#000">HS5-TNFR2#2</text>
<text x="424.24" y="305.60" font-family='"Liberation Serif","DejaVu Serif",serif' font-size="7.45" stroke="#000" stroke-width="0.12" transform="rotate(45 424.24 305.60)" fill="#000">HS5-TNFR2#3</text>
<text x="446.22" y="305.60" font-family='"Liberation Serif","DejaVu Serif",serif' font-size="7.45" stroke="#000" stroke-width="0.12" transform="rotate(45 446.22 305.60)" fill="#000">HS5-TNFR2#4</text>
<text x="363.50" y="350.60" font-family='"Liberation Serif","DejaVu Serif",serif' font-size="9.4" font-weight="bold" stroke="#000" stroke-width="0.3" text-anchor="middle" fill="#000">Modified Stable HS5 Cell Line</text>
<text x="214.00" y="241.10" font-family='"Liberation Serif","DejaVu Serif",serif' font-size="8.6" font-weight="bold" stroke="#000" stroke-width="0.3" text-anchor="middle" transform="rotate(-90 214.00 241.10)" fill="#000">Percent Apoptosis</text>
<text x="221.90" y="242.30" font-family='"Liberation Serif","DejaVu Serif",serif' font-size="7.5" stroke="#000" stroke-width="0.12" text-anchor="middle" transform="rotate(-90 221.90 242.30)" fill="#000">(Annexin V Pos, PI Neg)</text>
</svg>
</body></html>
